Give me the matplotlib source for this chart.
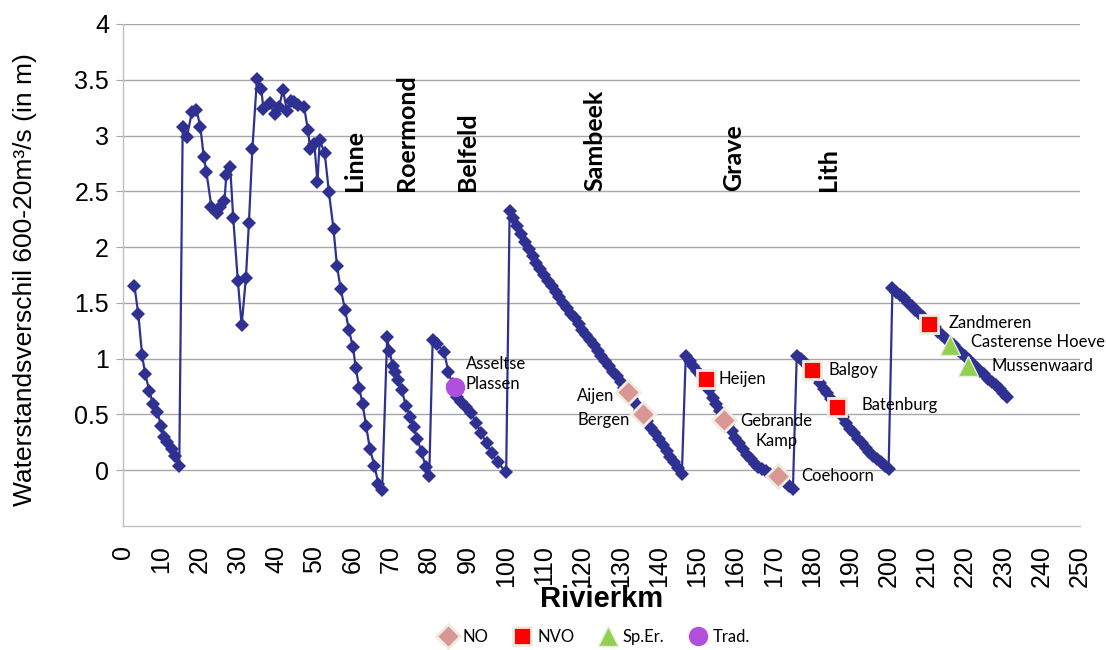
import matplotlib
matplotlib.use("Agg")
import matplotlib.pyplot as plt

# Waterstandsverschil (600 - 20 m3/s) langs de Maas, per rivierkilometer
rivierkm = [
    # bovenstrooms
    3.0, 4.0, 5.0, 5.8, 6.9, 7.8, 9.0, 9.9, 10.6, 11.6, 12.7, 13.6, 14.7,
    # tot stuw Linne
    15.6, 16.7, 18.0, 19.2, 20.2, 21.1, 21.8, 23.1, 24.6, 25.4, 26.5, 27.0,
    28.0, 28.8, 30.0, 31.0, 32.1, 32.9, 33.8, 35.0, 36.1, 36.7, 38.3, 39.6,
    40.8, 41.8, 42.8, 43.8, 44.8, 45.8, 47.3, 48.3, 48.9, 50.0, 50.8, 51.4,
    52.7, 53.8, 55.0, 55.9, 56.9, 58.0, 59.0, 60.1, 60.8, 61.7, 62.6, 63.5,
    64.5, 65.7, 66.7, 67.7,
    # tot stuw Roermond
    69.0, 69.6, 70.5, 71.1, 71.8, 72.8, 73.9, 75.0, 75.9, 76.9, 78.0, 79.1, 80.0,
    # tot stuw Belfeld
    80.9, 82.0, 83.9, 85.0, 86.1, 87.2, 88.4, 89.7, 91.0, 92.3, 93.6, 95.0,
    96.3, 97.9, 100.1,
    # tot stuw Sambeek
    101, 102, 103, 104, 105, 106, 107, 108, 109, 110, 111, 112, 113, 114, 115,
    116, 117, 118, 119, 120, 121, 122, 123, 124, 125, 126, 127, 128, 129, 130,
    131, 132, 133, 134, 135, 136, 137, 138, 139, 140, 141, 142, 143, 144, 145, 146,
    # tot stuw Grave
    147, 148, 149, 150, 151, 152, 153, 154, 155, 156, 157, 158, 159, 160, 161,
    162, 163, 164, 165, 166, 167, 168, 169, 170, 171, 172, 173, 174, 175,
    # tot stuw Lith
    176, 177, 178, 179, 180, 181, 182, 183, 184, 185, 186, 187, 188, 189, 190,
    191, 192, 193, 194, 195, 196, 197, 198, 199, 200,
    # benedenstrooms Lith
    201, 202, 203, 204, 205, 206, 207, 208, 209, 210, 211, 212, 213, 214, 215,
    216, 217, 218, 219, 220, 221, 222, 223, 224, 225, 226, 227, 228, 229, 230, 231,
]
verschil = [
    1.65, 1.40, 1.03, 0.86, 0.71, 0.59, 0.52, 0.40, 0.30, 0.25, 0.19, 0.13, 0.04,
    3.08, 2.99, 3.21, 3.23, 3.08, 2.81, 2.67, 2.36, 2.31, 2.36, 2.41, 2.65,
    2.72, 2.26, 1.70, 1.30, 1.72, 2.22, 2.88, 3.51, 3.42, 3.24, 3.29, 3.19,
    3.26, 3.41, 3.22, 3.31, 3.30, 3.27, 3.26, 3.05, 2.88, 2.92, 2.58, 2.96,
    2.84, 2.49, 2.16, 1.83, 1.62, 1.44, 1.26, 1.10, 0.92, 0.74, 0.59, 0.40,
    0.19, 0.04, -0.12, -0.18,
    1.19, 1.07, 0.93, 0.88, 0.81, 0.72, 0.58, 0.48, 0.39, 0.28, 0.16, 0.03, -0.05,
    1.17, 1.13, 1.06, 0.88, 0.77, 0.66, 0.61, 0.57, 0.51, 0.42, 0.33, 0.24,
    0.15, 0.07, -0.02,
    2.32, 2.26, 2.19, 2.12, 2.05, 1.98, 1.92, 1.86, 1.80, 1.75, 1.70, 1.65, 1.60, 1.55, 1.50,
    1.45, 1.40, 1.36, 1.31, 1.26, 1.21, 1.165, 1.12, 1.07, 1.02, 0.98, 0.93, 0.88, 0.84, 0.79,
    0.74, 0.70, 0.64, 0.59, 0.54, 0.49, 0.44, 0.38, 0.33, 0.28, 0.23, 0.17, 0.12, 0.07, 0.02, -0.03,
    1.02, 0.98, 0.93, 0.89, 0.85, 0.80, 0.72, 0.65, 0.59, 0.53, 0.47, 0.41, 0.35, 0.29, 0.24,
    0.19, 0.14, 0.10, 0.06, 0.03, 0.01, -0.01, -0.03, -0.05, -0.07, -0.09, -0.11, -0.14, -0.17,
    1.02, 1.00, 0.97, 0.93, 0.89, 0.84, 0.78, 0.73, 0.69, 0.64, 0.59, 0.54, 0.48, 0.42, 0.37,
    0.33, 0.28, 0.24, 0.20, 0.16, 0.13, 0.10, 0.07, 0.04, 0.01,
    1.63, 1.60, 1.57, 1.54, 1.50, 1.47, 1.44, 1.41, 1.37, 1.34, 1.31, 1.28, 1.24, 1.21, 1.18,
    1.15, 1.12, 1.08, 1.05, 1.02, 0.99, 0.95, 0.92, 0.89, 0.86, 0.82, 0.79, 0.76, 0.73, 0.69, 0.66,
]

# projectlocaties per type maatregel
no_naam = ["Aijen", "Bergen", "Gebrande\nKamp", "Coehoorn"]
no_km = [131.9, 135.8, 157.0, 171.1]
no_val = [0.70, 0.50, 0.45, -0.05]

nvo_naam = ["Heijen", "Balgoy", "Batenburg", "Zandmeren"]
nvo_km = [152.3, 180.0, 186.5, 210.6]
nvo_val = [0.82, 0.90, 0.57, 1.31]

sper_naam = ["Casterense Hoeve", "Mussenwaard"]
sper_km = [216.0, 220.7]
sper_val = [1.12, 0.93]

trad_naam = ["Asseltse\nPlassen"]
trad_km = [86.7]
trad_val = [0.75]

# stuwen
stuw_naam = ["Linne", "Roermond", "Belfeld", "Sambeek", "Grave", "Lith"]
stuw_km = [60.6, 74.1, 90.1, 123.3, 159.4, 184.2]

x_ticks = list(range(0, 251, 10))
y_ticks = [0, 0.5, 1, 1.5, 2, 2.5, 3, 3.5, 4]

# label offsets (points) t.o.v. de marker
offsets = {
    "Aijen": (-37, -3), "Bergen": (-47, -4), "Gebrande\nKamp": (12, -8),
    "Coehoorn": (17, 0), "Heijen": (9, 0), "Balgoy": (12, 0),
    "Batenburg": (18, 1), "Zandmeren": (14, 1), "Casterense Hoeve": (15, 2),
    "Mussenwaard": (17, 0), "Asseltse\nPlassen": (8, 9),
}

lijn = "#2E3192"
rand = "#EEECE1"
calibri = "Lato"

fig = plt.figure(figsize=(11.06, 6.5), dpi=100)
ax = fig.add_axes([0.1112, 0.1908, 0.8653, 0.7723])

ax.plot(rivierkm, verschil, color=lijn, lw=1.6, marker="D", ms=7,
        markeredgewidth=0, zorder=3)

h_no, = ax.plot(no_km, no_val, ls="none", marker="D", ms=12, mfc="#D99694",
                mec=rand, mew=2, zorder=4, label="NO")
h_nvo, = ax.plot(nvo_km, nvo_val, ls="none", marker="s", ms=13, mfc="#FF0000",
                 mec=rand, mew=2, zorder=4, label="NVO")
h_sper, = ax.plot(sper_km, sper_val, ls="none", marker="^", ms=15, mfc="#92D050",
                  mec="#E4EED8", mew=1, zorder=4, label="Sp.Er.")
h_trad, = ax.plot(trad_km, trad_val, ls="none", marker="o", ms=14, mfc="#B050DC",
                  mec="#B050DC", mew=0, zorder=4, label="Trad.")

for namen, xs, ys in [(no_naam, no_km, no_val), (nvo_naam, nvo_km, nvo_val),
                      (sper_naam, sper_km, sper_val), (trad_naam, trad_km, trad_val)]:
    for n, x, y in zip(namen, xs, ys):
        ax.annotate(n, (x, y), xytext=offsets[n], textcoords="offset points",
                    ha="left", va="center", fontsize=12, family=calibri,
                    multialignment="center" if n == "Gebrande\nKamp" else "left",
                    linespacing=1.25, zorder=5)

for n, x in zip(stuw_naam, stuw_km):
    ax.text(x, 2.5, n, rotation=90, ha="center", va="bottom", fontsize=18,
            fontweight="bold", family=calibri, zorder=5)

ax.set_xlim(0, 250)
ax.set_ylim(-0.5, 4)
ax.set_xticks(x_ticks)
ax.set_xticklabels([str(v) for v in x_ticks], rotation=90, family="Liberation Sans",
                   fontsize=18)
ax.set_yticks(y_ticks)
ax.set_yticklabels([f"{v:g}" for v in y_ticks], family="Liberation Sans", fontsize=18)
ax.tick_params(axis="x", length=0, pad=14)
ax.tick_params(axis="y", length=5, color="#A6A6A6", pad=5)

ax.yaxis.grid(True, color="#A6A6A6", lw=1.0)
ax.set_axisbelow(True)
for s in ["top", "right"]:
    ax.spines[s].set_visible(False)
for s in ["left", "bottom"]:
    ax.spines[s].set_color("#BFBFBF")
    ax.spines[s].set_linewidth(1.0)

ax.set_ylabel("Waterstandsverschil 600-20m³/s (in m)", family="Liberation Sans",
              fontsize=19)
ax.yaxis.set_label_coords(-0.09, 0.49)
ax.set_xlabel("Rivierkm", family="Liberation Sans", fontsize=21, fontweight="bold")
ax.xaxis.set_label_coords(0.5, -0.118)

fig.legend(handles=[h_no, h_nvo, h_sper, h_trad], loc="center",
           bbox_to_anchor=(0.537, 0.02), ncol=4, frameon=False,
           prop={"family": calibri, "size": 12}, handlelength=1.2,
           handletextpad=0.3, columnspacing=1.4)

fig.savefig("out.png", dpi=100)
